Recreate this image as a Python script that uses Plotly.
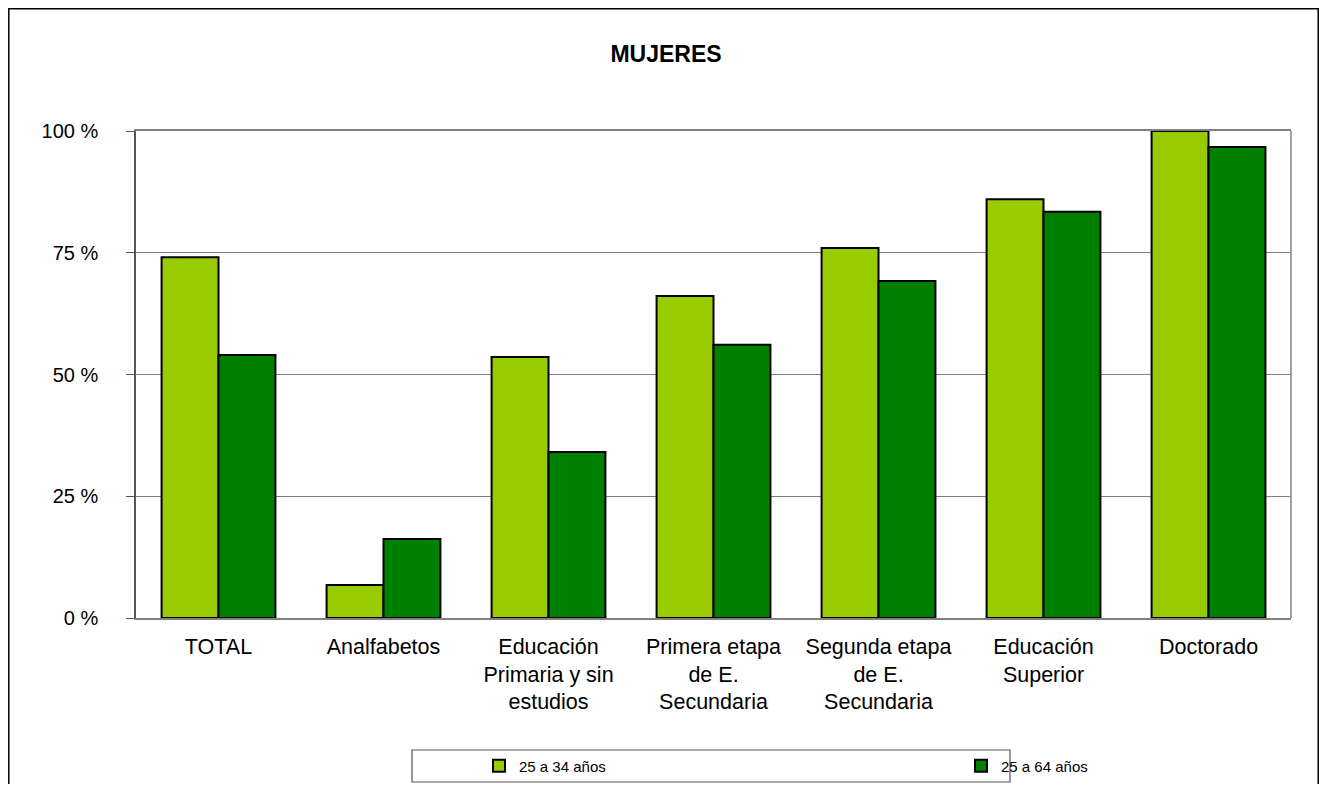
import plotly.graph_objects as go

categories = ["TOTAL", "Analfabetos", "Educación<br>Primaria y sin<br>estudios",
              "Primera etapa<br>de E.<br>Secundaria", "Segunda etapa<br>de E.<br>Secundaria",
              "Educación<br>Superior", "Doctorado"]
series_names = ["25 a 34 años", "25 a 64 años"]
values_25_34 = [74.1, 6.8, 53.6, 66.1, 76.0, 86.0, 100.0]
values_25_64 = [54.0, 16.2, 34.1, 56.1, 69.2, 83.4, 96.7]
y_ticks = [0, 25, 50, 75, 100]
y_tick_text = ["0 %", "25 %", "50 %", "75 %", "100 %"]
title_text = "MUJERES"

colors = ["#99CC00", "#008000"]
legend_ids = ["legend", "legend2"]

OFF = 8  # page body margin
W, H = 1327 - 2 * OFF, 792 - 2 * OFF
L, R, T, B = 136 - OFF, 1291 - OFF, 131 - OFF, 618 - OFF
pw, ph = R - L, B - T

def px(x):
    return (x - OFF - L) / pw

def py(y):
    return (B - (y - OFF)) / ph

def cx(x):
    return (x - OFF) / W

def cy(y):
    return 1 - (y - OFF) / H

fig = go.Figure()
for name, vals, col, lg in zip(series_names, [values_25_34, values_25_64], colors, legend_ids):
    fig.add_trace(go.Bar(x=categories, y=vals, name=name, legend=lg,
                         marker=dict(color=col, line=dict(color="black", width=2))))

legend_common = dict(orientation="h", xanchor="left", yanchor="middle",
                     xref="container", yref="container", bgcolor="rgba(0,0,0,0)",
                     borderwidth=0, font=dict(size=15), itemwidth=30)

fig.update_layout(
    width=W, height=H,
    margin=dict(l=L, r=W - R, t=T, b=H - B, autoexpand=False),
    paper_bgcolor="white", plot_bgcolor="white",
    barmode="group", bargap=0.31, bargroupgap=0,
    font=dict(family="Liberation Sans, Arial, sans-serif", size=20, color="black"),
    title=dict(text="<b>" + title_text + "</b>", xref="container", x=cx(666), xanchor="center",
               yref="container", y=cy(54), yanchor="middle", font=dict(size=23)),
    showlegend=True,
    legend=dict(x=cx(479), y=cy(766), **legend_common),
    legend2=dict(x=cx(961), y=cy(766), **legend_common),
    xaxis=dict(showline=True, linecolor="#808080", linewidth=1.5, mirror=True,
               ticks="", tickfont=dict(size=21.5), showgrid=False, ticklabelstandoff=8),
    yaxis=dict(range=[0, 100], tickvals=y_ticks, ticktext=y_tick_text, showgrid=True,
               gridcolor="#808080", gridwidth=1, showline=True, linecolor="#555555",
               linewidth=1.5, ticks="outside", ticklen=8, tickcolor="#555555",
               tickfont=dict(size=20), zeroline=False, ticklabelstandoff=24),
    shapes=[
        dict(type="rect", xref="paper", yref="paper", x0=px(8.8), x1=px(1318.2),
             y0=py(790.5), y1=py(8.8), line=dict(color="black", width=1.5), layer="below"),
        dict(type="rect", xref="paper", yref="paper", x0=px(412), x1=px(1010),
             y0=py(782), y1=py(750), line=dict(color="#555555", width=1.2)),
        dict(type="line", xref="paper", yref="paper", x0=1, x1=1, y0=0, y1=1,
             line=dict(color="#808080", width=1.5)),
    ],
)

fig.write_html("out.html")
